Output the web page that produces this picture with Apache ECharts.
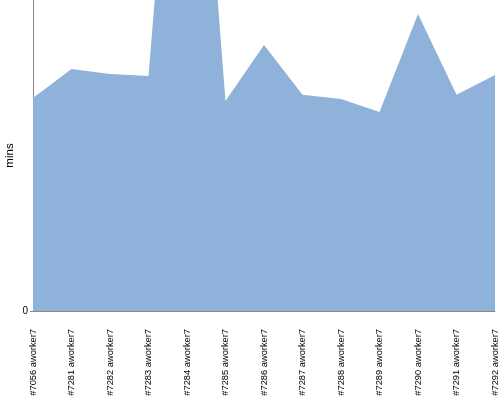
<!DOCTYPE html>
<html><head><meta charset="utf-8">
<script src="https://cdn.jsdelivr.net/npm/echarts@6/dist/echarts.min.js"></script>
<style>html,body{margin:0;padding:0;background:#fff}#c{width:500px;height:400px}</style>
</head><body><div id="c"></div>
<script>
var categories = ["#7056 aworker7","#7281 aworker7","#7282 aworker7","#7283 aworker7","#7284 aworker7","#7285 aworker7","#7286 aworker7","#7287 aworker7","#7288 aworker7","#7289 aworker7","#7290 aworker7","#7291 aworker7","#7292 aworker7"];
var minsValues = [68.5, 77.8, 76.2, 75.6, 227, 67.5, 85.5, 69.5, 68.2, 64, 95.5, 69.5, 75.9];
var yTickValues = [0];

var chart = echarts.init(document.getElementById('c'), null, {renderer:'canvas'});
chart.setOption({
  animation:false,
  grid:{left:33, right:5, top:0, bottom:89, containLabel:false, outerBoundsMode:'none'},
  xAxis:{type:'category', data:categories, boundaryGap:false,
    axisLine:{lineStyle:{color:'#888', width:1}},
    axisTick:{show:false},
    axisLabel:{rotate:90, margin:18, interval:0, color:'#000', fontFamily:'Liberation Sans', fontSize:9.3}},
  yAxis:{type:'value', min:0, max:100, interval:100, name:'mins', nameLocation:'middle', nameGap:17, nameMoveOverlap:false,
    nameTextStyle:{color:'#000', fontFamily:'Liberation Sans', fontSize:11.5},
    axisLine:{show:true, lineStyle:{color:'#888', width:1}},
    axisTick:{show:true, length:3, customValues:yTickValues, lineStyle:{color:'#888'}},
    splitLine:{show:false},
    axisLabel:{color:'#000', fontFamily:'Liberation Sans', fontSize:10, margin:5, customValues:yTickValues}},
  series:[{type:'line', data:minsValues, symbol:'none', clip:true,
    lineStyle:{width:0}, areaStyle:{color:'#8FB2DA', opacity:1}}]
});
</script></body></html>
